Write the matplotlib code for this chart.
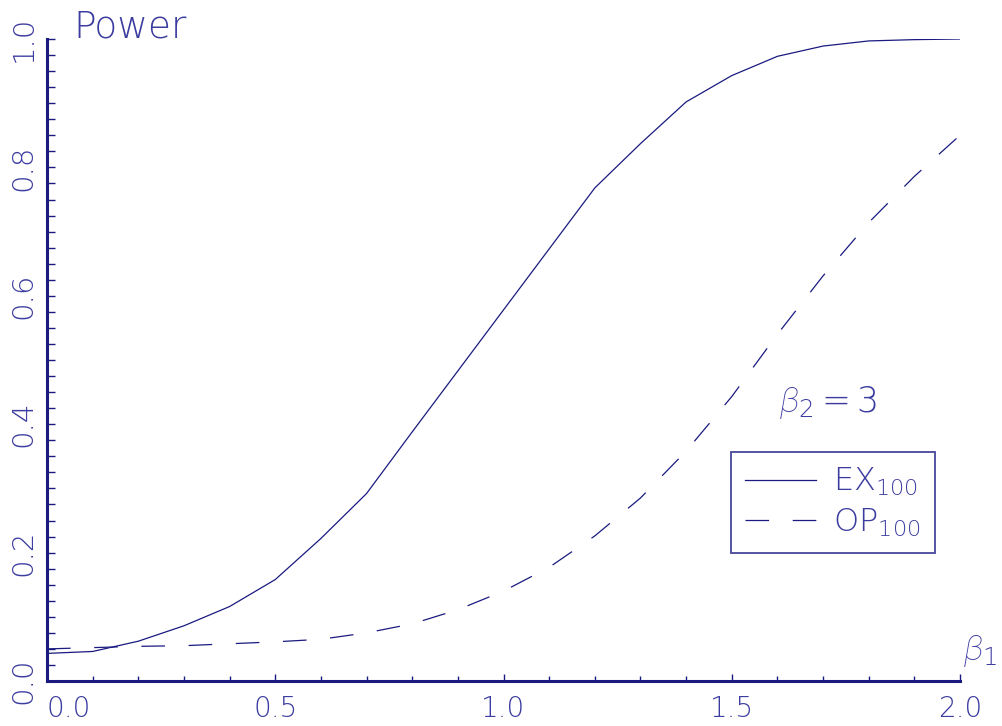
import matplotlib
matplotlib.use('Agg')
import matplotlib.pyplot as plt
from matplotlib.ticker import MultipleLocator

# power curves (beta_2 = 3)
beta1 = [0.0, 0.1, 0.2, 0.3, 0.4, 0.5, 0.6, 0.7, 0.8, 0.9, 1.0,
         1.1, 1.2, 1.3, 1.4, 1.5, 1.6, 1.7, 1.8, 1.9, 2.0]
power_ex = [0.043, 0.046, 0.062, 0.086, 0.116, 0.158, 0.222, 0.292, 0.388, 0.483, 0.578,
            0.673, 0.768, 0.837, 0.902, 0.943, 0.973, 0.989, 0.997, 0.999, 1.000]
power_op = [0.050, 0.052, 0.054, 0.055, 0.058, 0.061, 0.065, 0.075, 0.089, 0.111, 0.140,
            0.177, 0.226, 0.285, 0.358, 0.443, 0.540, 0.631, 0.714, 0.786, 0.850]

x_ticks = [0.0, 0.5, 1.0, 1.5, 2.0]
x_tick_labels = ['0.0', '0.5', '1.0', '1.5', '2.0']
y_ticks = [0.0, 0.2, 0.4, 0.6, 0.8, 1.0]
y_tick_labels = ['0.0', '0.2', '0.4', '0.6', '0.8', '1.0']

navy = '#1a1a80'
text_col = '#3c3ca0'

plt.rcParams['font.family'] = ['DejaVu Sans']
plt.rcParams['font.weight'] = 200
plt.rcParams['mathtext.fontset'] = 'custom'
plt.rcParams['mathtext.rm'] = 'DejaVu Sans:ultralight'
plt.rcParams['mathtext.it'] = 'Roboto:italic:light'
plt.rcParams['lines.scale_dashes'] = False

fig = plt.figure(figsize=(10.03, 7.26), dpi=100)
ax = fig.add_axes([47 / 1003, 1 - 681 / 726, 913 / 1003, 642 / 726])

ax.plot(beta1, power_ex, color=navy, lw=0.9, label='EX$_{100}$')
ax.plot(beta1, power_op, color=navy, lw=0.9, dashes=(17, 17), label='OP$_{100}$')

ax.set_xlim(0, 2)
ax.set_ylim(0, 1)
for s in ['top', 'right']:
    ax.spines[s].set_visible(False)
for s in ['left', 'bottom']:
    ax.spines[s].set_linewidth(2.2)
    ax.spines[s].set_color(navy)

ax.set_xticks(x_ticks)
ax.set_xticklabels(x_tick_labels)
ax.xaxis.set_minor_locator(MultipleLocator(0.1))
ax.set_yticks(y_ticks)
ax.set_yticklabels(y_tick_labels, rotation=90, va='center')
ax.yaxis.set_minor_locator(MultipleLocator(0.025))

ax.tick_params(axis='x', which='major', direction='in', length=5, width=1, color=navy,
               labelsize=20, labelcolor=text_col, pad=10)
ax.tick_params(axis='x', which='minor', direction='in', length=3.6, width=1, color=navy)
ax.tick_params(axis='y', which='both', direction='in', length=5.8, width=1, color=navy,
               labelsize=21, labelcolor=text_col, pad=7)
ax.get_xticklabels()[0].set_horizontalalignment('left')

leg = ax.legend(loc='upper left', bbox_to_anchor=(731 / 1003, 1 - 452 / 726),
                bbox_transform=fig.transFigure, frameon=True, fancybox=False,
                fontsize=23, handlelength=2.2, handletextpad=0.55, borderpad=0.45,
                labelspacing=0.25, borderaxespad=0, labelcolor=text_col)
leg.get_frame().set_edgecolor(navy)
leg.get_frame().set_linewidth(1.3)

fig.text(73 / 1003, 1 - 38 / 726, 'Power', fontsize=27, color=text_col, va='baseline')
ax.text(1.603, 0.419, r'$\beta_2 = 3$', fontsize=25, color=text_col, va='baseline')
ax.text(2.007, 0.033, r'$\beta_1$', fontsize=25, color=text_col, va='baseline', clip_on=False)

fig.savefig('out.png', dpi=100)
